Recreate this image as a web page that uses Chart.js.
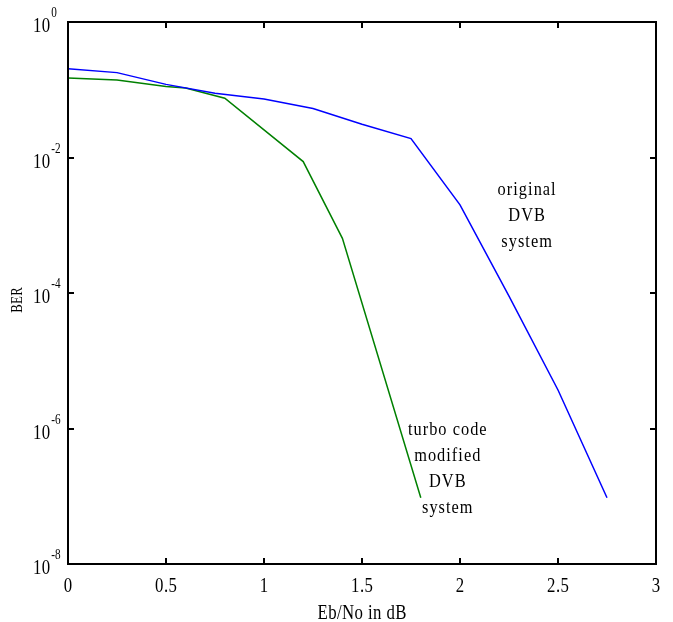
<!DOCTYPE html>
<html>
<head>
<meta charset="utf-8">
<script src="https://cdn.jsdelivr.net/npm/chart.js@4"></script>
<style>
  html, body { margin: 0; padding: 0; background: #fff; }
  #wrap { width: 673px; height: 622px; }
</style>
</head>
<body>
<div id="wrap"><canvas id="c" width="673" height="622"></canvas></div>
<script>
// Eb/No (dB) and BER readings
const origX = [0, 0.25, 0.5, 0.75, 1, 1.25, 1.5, 1.75, 2, 2.25, 2.5, 2.75]
const origBER = [0.205, 0.179, 0.12, 0.089, 0.073, 0.053, 0.031, 0.019, 2e-3, 9e-5, 3.7e-6, 9.5e-8]
const turboX = [0, 0.25, 0.5, 0.6, 0.8, 1.2, 1.4, 1.8]
const turboBER = [0.149, 0.139, 0.112, 0.106, 0.075, 0.0087, 6.4e-4, 9.5e-8]

const xTicks = [0, 0.5, 1, 1.5, 2, 2.5, 3]
const xTickLabels = ['0', '0.5', '1', '1.5', '2', '2.5', '3']
const yTicks = [1, 1e-2, 1e-4, 1e-6, 1e-8]
const yTickExps = ['0', '-2', '-4', '-6', '-8']

const origLabel = ['original', 'DVB', 'system']
const turboLabel = ['turbo code', 'modified', 'DVB', 'system']

const SERIF = '"Liberation Serif", "Times New Roman", serif'

function pts (xs, ys) {
  return xs.map((x, i) => ({ x, y: ys[i] }))
}

function drawText (ctx, text, x, y, size, align, sx, spacing) {
  ctx.save()
  ctx.font = size + 'px ' + SERIF
  ctx.letterSpacing = (spacing || 0) + 'px'
  ctx.textBaseline = 'alphabetic'
  ctx.translate(x, y)
  ctx.scale(sx, 1)
  let w = ctx.measureText(text).width
  if (spacing) w -= spacing
  let dx = 0
  if (align === 'center') dx = -w / 2
  else if (align === 'right') dx = -w
  ctx.fillText(text, dx, 0)
  ctx.restore()
  return w * sx
}

const framePlugin = {
  id: 'frame',
  afterDatasetsDraw (chart) {
    const { ctx, chartArea: a, scales } = chart
    const xs = scales.x
    const ys = scales.y
    ctx.save()
    ctx.fillStyle = '#000'
    ctx.strokeStyle = '#000'
    ctx.lineWidth = 2
    ctx.strokeRect(a.left, a.top, a.right - a.left, a.bottom - a.top)

    const tl = 6
    xTicks.forEach((v, i) => {
      const px = Math.round(xs.getPixelForValue(v))
      ctx.beginPath()
      ctx.moveTo(px, a.bottom); ctx.lineTo(px, a.bottom - tl)
      ctx.moveTo(px, a.top); ctx.lineTo(px, a.top + tl)
      ctx.stroke()
      drawText(ctx, xTickLabels[i], px, a.bottom + 28, 21, 'center', 0.8, 0.5)
    })

    yTicks.forEach((v, i) => {
      const py = Math.round(ys.getPixelForValue(v))
      ctx.beginPath()
      ctx.moveTo(a.left, py); ctx.lineTo(a.left + tl, py)
      ctx.moveTo(a.right, py); ctx.lineTo(a.right - tl, py)
      ctx.stroke()
      const base = py + 10
      const w = drawText(ctx, '10', a.left - 35, base, 21, 'left', 0.8, 0.5)
      drawText(ctx, yTickExps[i], a.left - 35 + w + 1, py - 5, 14, 'left', 0.8, 0)
    })

    // axis titles
    drawText(ctx, 'Eb/No in dB', (a.left + a.right) / 2, a.bottom + 55, 21, 'center', 0.8, 0.5)
    ctx.save()
    ctx.translate(22, 300)
    ctx.rotate(-Math.PI / 2)
    drawText(ctx, 'BER', 0, 0, 16, 'center', 0.8, 0.5)
    ctx.restore()

    // curve annotations
    const ox = xs.getPixelForValue(2.34)
    const oy = ys.getPixelForValue(2.8e-3)
    origLabel.forEach((t, i) => {
      drawText(ctx, t, ox, oy + i * 26, 19, 'center', 0.86, 1.2)
    })
    const tx = xs.getPixelForValue(1.935)
    const ty = ys.getPixelForValue(8e-7)
    turboLabel.forEach((t, i) => {
      drawText(ctx, t, tx, ty + i * 26, 19, 'center', 0.86, 1.2)
    })
    ctx.restore()
  }
}

new Chart(document.getElementById('c'), {
  type: 'line',
  data: {
    datasets: [
      {
        label: 'original DVB system',
        data: pts(origX, origBER),
        borderColor: '#0000ff',
        borderWidth: 1.5,
        pointRadius: 0,
        tension: 0,
        fill: false,
      },
      {
        label: 'turbo code modified DVB system',
        data: pts(turboX, turboBER),
        borderColor: '#008000',
        borderWidth: 1.5,
        pointRadius: 0,
        tension: 0,
        fill: false,
      },
    ],
  },
  options: {
    responsive: false,
    animation: false,
    devicePixelRatio: 1,
    layout: { padding: { left: 68, top: 22, right: 17, bottom: 58 } },
    plugins: {
      legend: { display: false },
      tooltip: { enabled: false },
      title: { display: false },
    },
    scales: {
      x: { type: 'linear', min: 0, max: 3, display: false },
      y: { type: 'logarithmic', min: 1e-8, max: 1, display: false },
    },
  },
  plugins: [framePlugin],
})
</script>
</body>
</html>
